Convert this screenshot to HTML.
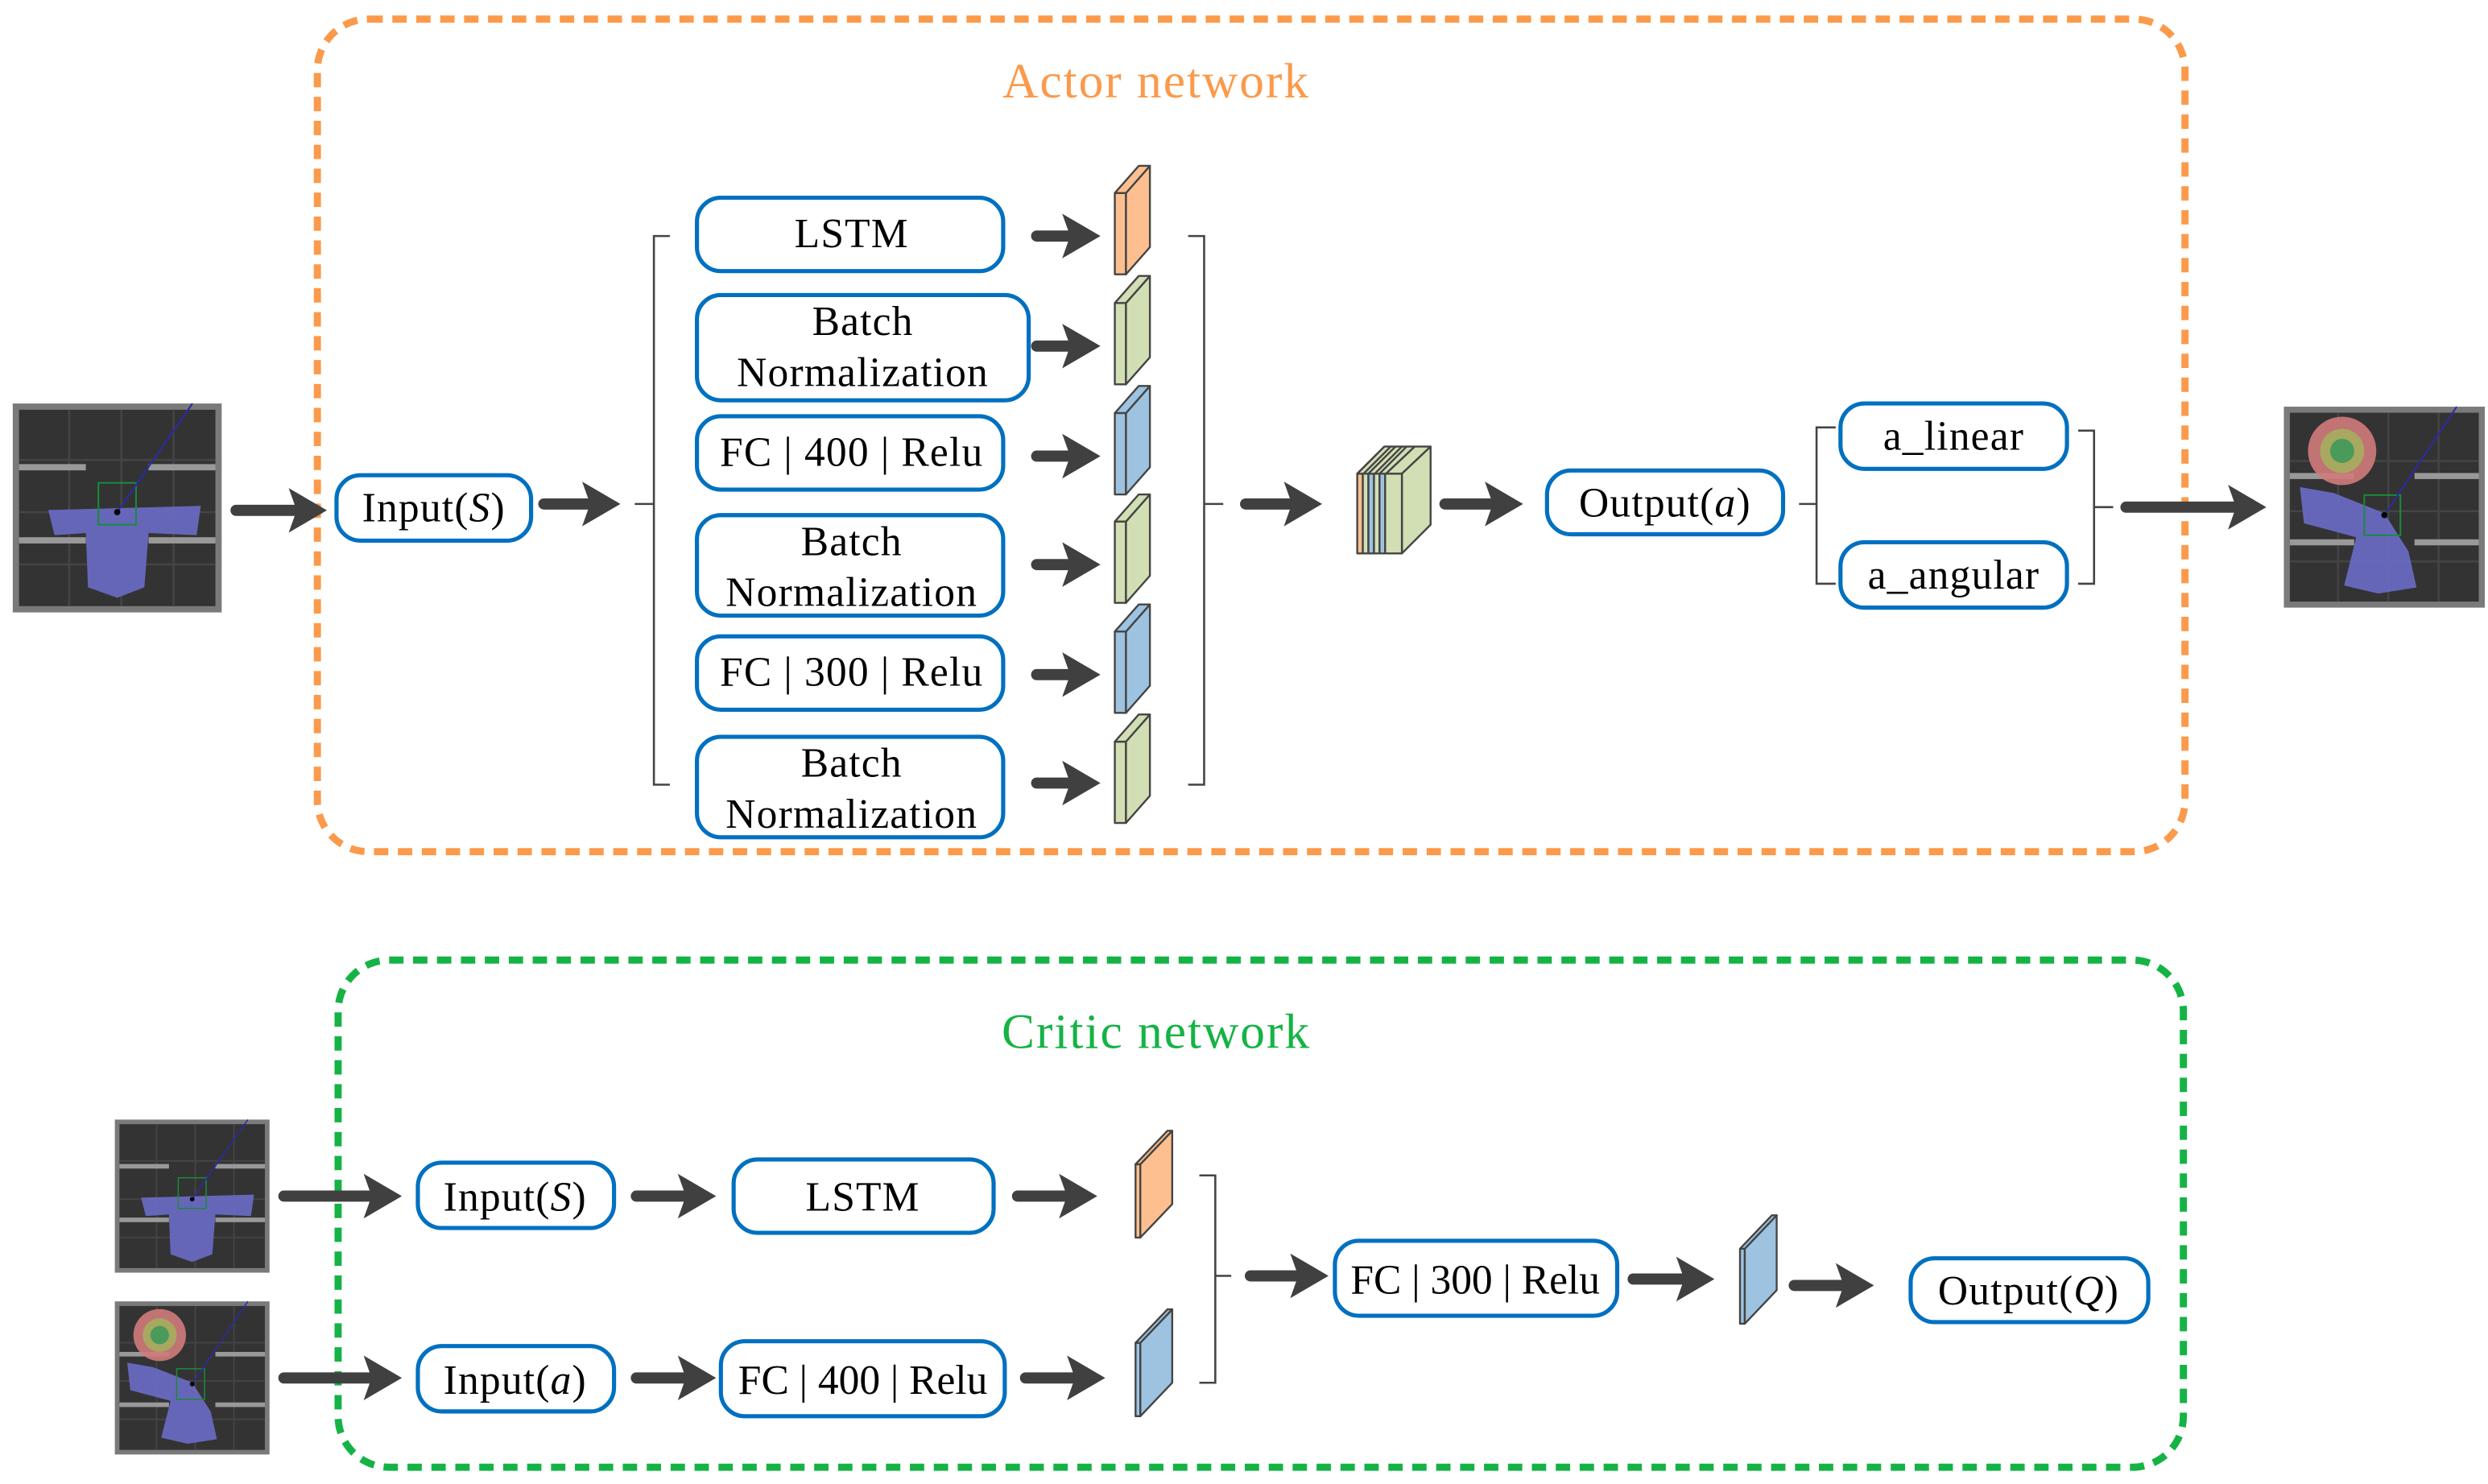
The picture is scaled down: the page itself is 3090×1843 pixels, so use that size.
<!DOCTYPE html>
<html><head><meta charset="utf-8"><style>
html,body{margin:0;padding:0;background:#fff;}
svg{display:block;}
text{font-family:"Liberation Serif",serif;fill:#000;}
</style></head><body>
<svg width="3090" height="1843" viewBox="0 0 1560 930.5" preserveAspectRatio="none" xmlns="http://www.w3.org/2000/svg">
<defs>
<g id="ah"><polygon points="-24,-14 0,0 -24,14 -19,0" fill="#404040"/></g>
<g id="scr">
<rect x="0" y="0" width="100" height="100" fill="#7a7a7a"/>
<rect x="3" y="3" width="94" height="94" fill="#333"/>
<path d="M3,27H97M3,52H97M3,77H97M27,3V97M52,3V97M77,3V97" stroke="#444" stroke-width="1"/>
<rect x="3" y="29" width="32" height="3" fill="#999"/><rect x="65" y="29" width="32" height="3" fill="#999"/>
<rect x="3" y="64" width="32" height="3" fill="#999"/><rect x="65" y="64" width="32" height="3" fill="#999"/>
<polygon points="17,51 90,49 88,63 65,62 63,88 50,93 36,88 35,62 20,63" fill="#6b6bc8" opacity="0.9"/>
<rect x="41" y="38" width="18" height="20" fill="none" stroke="#1a8a3a" stroke-width="0.8"/>
<line x1="50" y1="52" x2="86" y2="0" stroke="#2a2aaa" stroke-width="0.8"/>
<circle cx="50" cy="52" r="1.5" fill="#000"/>
</g>
<g id="scr2">
<rect x="0" y="0" width="100" height="100" fill="#7a7a7a"/>
<rect x="3" y="3" width="94" height="94" fill="#333"/>
<path d="M3,27H97M3,52H97M3,77H97M27,3V97M52,3V97M77,3V97" stroke="#444" stroke-width="1"/>
<rect x="3" y="33" width="32" height="3" fill="#999"/><rect x="65" y="33" width="32" height="3" fill="#999"/>
<rect x="3" y="66" width="32" height="3" fill="#999"/><rect x="65" y="66" width="32" height="3" fill="#999"/>
<polygon points="8,40 25,43 50,53 62,72 66,90 47,93 30,89 36,65 10,58" fill="#6b6bc8" opacity="0.9"/>
<circle cx="29" cy="22" r="17" fill="#d17a7a" opacity="0.9"/>
<circle cx="29" cy="22" r="11" fill="#a8a860"/>
<circle cx="29" cy="22" r="6" fill="#4a9a5a"/>
<rect x="40" y="44" width="18" height="20" fill="none" stroke="#1a8a3a" stroke-width="0.8"/>
<line x1="50" y1="54" x2="86" y2="0" stroke="#2a2aaa" stroke-width="0.8"/>
<circle cx="50" cy="54" r="1.5" fill="#000"/>
</g>
</defs>

<rect x="199" y="12" width="1171" height="522" rx="32" fill="none" stroke="#fb9a4b" stroke-width="4.5" stroke-dasharray="9,6"/>
<text x="725" y="61" font-size="31" letter-spacing="1" text-anchor="middle" style="fill:#fb9a4b">Actor network</text>
<rect x="212" y="602" width="1157" height="318" rx="32" fill="none" stroke="#15b345" stroke-width="4.5" stroke-dasharray="9,6"/>
<text x="725" y="657" font-size="31" letter-spacing="1" text-anchor="middle" style="fill:#15b345">Critic network</text>

<use href="#scr" transform="translate(8,253) scale(1.31,1.31)"/>
<use href="#scr2" transform="translate(1432,255) scale(1.26,1.26)"/>
<use href="#scr" transform="translate(72,702) scale(0.97,0.96)"/>
<use href="#scr2" transform="translate(72,816) scale(0.97,0.96)"/>

<g fill="#fff" stroke="#0070c0" stroke-width="2.6">
<rect x="437" y="124" width="192" height="46" rx="15"/>
<rect x="437" y="185" width="208" height="66" rx="15"/>
<rect x="437" y="261" width="192" height="46" rx="15"/>
<rect x="437" y="323" width="192" height="63" rx="15"/>
<rect x="437" y="399" width="192" height="46" rx="15"/>
<rect x="437" y="462" width="192" height="63" rx="15"/>
<rect x="211" y="298" width="122" height="41" rx="15"/>
<rect x="970" y="295" width="148" height="40" rx="15"/>
<rect x="1154" y="253" width="142" height="41" rx="15"/>
<rect x="1154" y="340" width="142" height="41" rx="15"/>
<rect x="262" y="729" width="123" height="41" rx="15"/>
<rect x="460" y="727" width="163" height="46" rx="15"/>
<rect x="262" y="844" width="123" height="41" rx="15"/>
<rect x="452" y="841" width="178" height="47" rx="15"/>
<rect x="837" y="778" width="177" height="47" rx="15"/>
<rect x="1198" y="789" width="149" height="40" rx="15"/>
</g>
<g font-size="26" letter-spacing="0.6" text-anchor="middle">
<text x="534" y="155">LSTM</text>
<text x="541" y="210">Batch</text><text x="541" y="242">Normalization</text>
<text x="534" y="292">FC | 400 | Relu</text>
<text x="534" y="348">Batch</text><text x="534" y="380">Normalization</text>
<text x="534" y="430">FC | 300 | Relu</text>
<text x="534" y="487">Batch</text><text x="534" y="519">Normalization</text>
<text x="272" y="327">Input(<tspan font-style="italic">S</tspan>)</text>
<text x="1044" y="324">Output(<tspan font-style="italic">a</tspan>)</text>
<text x="1225" y="282">a_linear</text>
<text x="1225" y="369">a_angular</text>
<text x="323" y="759">Input(<tspan font-style="italic">S</tspan>)</text>
<text x="541" y="759">LSTM</text>
<text x="323" y="874">Input(<tspan font-style="italic">a</tspan>)</text>
<text x="541" y="874" letter-spacing="0">FC | 400 | Relu</text>
<text x="925" y="811" letter-spacing="0">FC | 300 | Relu</text>
<text x="1272" y="818">Output(<tspan font-style="italic">Q</tspan>)</text>
</g>

<g fill="none" stroke="#444" stroke-width="1.3">
<path d="M420,148H410V492H420M398,316H410"/>
<path d="M745,148H755V492H745M755,316H767"/>
<path d="M1151,268H1139V366H1151M1128,316H1139"/>
<path d="M1303,270H1313V366H1303M1313,318H1325"/>
<path d="M752,737H762V867H752M762,800H772"/>
</g>

<g stroke="#404040" stroke-width="7" stroke-linecap="round">
<line x1="148" y1="320" x2="186" y2="320"/>
<line x1="341" y1="316" x2="370" y2="316"/>
<line x1="650" y1="148" x2="671" y2="148"/>
<line x1="650" y1="217" x2="671" y2="217"/>
<line x1="650" y1="286" x2="671" y2="286"/>
<line x1="650" y1="354" x2="671" y2="354"/>
<line x1="650" y1="423" x2="671" y2="423"/>
<line x1="650" y1="491" x2="671" y2="491"/>
<line x1="781" y1="316" x2="810" y2="316"/>
<line x1="906" y1="316" x2="936" y2="316"/>
<line x1="1333" y1="318" x2="1402" y2="318"/>
<line x1="178" y1="750" x2="233" y2="750"/>
<line x1="399" y1="750" x2="430" y2="750"/>
<line x1="638" y1="750" x2="669" y2="750"/>
<line x1="178" y1="864" x2="233" y2="864"/>
<line x1="399" y1="864" x2="430" y2="864"/>
<line x1="643" y1="864" x2="674" y2="864"/>
<line x1="784" y1="800" x2="814" y2="800"/>
<line x1="1024" y1="802" x2="1056" y2="802"/>
<line x1="1125" y1="806" x2="1156" y2="806"/>
</g>
<use href="#ah" x="205" y="320"/><use href="#ah" x="389" y="316"/>
<use href="#ah" x="690" y="148"/><use href="#ah" x="690" y="217"/><use href="#ah" x="690" y="286"/>
<use href="#ah" x="690" y="354"/><use href="#ah" x="690" y="423"/><use href="#ah" x="690" y="491"/>
<use href="#ah" x="829" y="316"/><use href="#ah" x="955" y="316"/><use href="#ah" x="1421" y="318"/>
<use href="#ah" x="252" y="750"/><use href="#ah" x="449" y="750"/><use href="#ah" x="688" y="750"/>
<use href="#ah" x="252" y="864"/><use href="#ah" x="449" y="864"/><use href="#ah" x="693" y="864"/>
<use href="#ah" x="833" y="800"/><use href="#ah" x="1075" y="802"/><use href="#ah" x="1175" y="806"/>

<g stroke="#444" stroke-width="1.2" stroke-linejoin="round">
<g fill="#fdbf8f"><polygon points="699,121 706,121 706,172 699,172"/><polygon points="706,121 721,104 721,155 706,172"/><polygon points="699,121 714,104 721,104 706,121"/></g>
<g fill="#d2deb4"><polygon points="699,190 706,190 706,241 699,241"/><polygon points="706,190 721,173 721,224 706,241"/><polygon points="699,190 714,173 721,173 706,190"/></g>
<g fill="#9dc3e0"><polygon points="699,259 706,259 706,310 699,310"/><polygon points="706,259 721,242 721,293 706,310"/><polygon points="699,259 714,242 721,242 706,259"/></g>
<g fill="#d2deb4"><polygon points="699,327 706,327 706,378 699,378"/><polygon points="706,327 721,310 721,361 706,378"/><polygon points="699,327 714,310 721,310 706,327"/></g>
<g fill="#9dc3e0"><polygon points="699,396 706,396 706,447 699,447"/><polygon points="706,396 721,379 721,430 706,447"/><polygon points="699,396 714,379 721,379 706,396"/></g>
<g fill="#d2deb4"><polygon points="699,465 706,465 706,516 699,516"/><polygon points="706,465 721,448 721,499 706,516"/><polygon points="699,465 714,448 721,448 706,465"/></g>

<g fill="#fdbf8f"><polygon points="712,730 715,730 715,776 712,776"/><polygon points="715,730 735,709 735,755 715,776"/><polygon points="712,730 732,709 735,709 715,730"/></g>
<g fill="#9dc3e0"><polygon points="712,842 715,842 715,888 712,888"/><polygon points="715,842 735,821 735,867 715,888"/><polygon points="712,842 732,821 735,821 715,842"/></g>
<g fill="#9dc3e0"><polygon points="1091,783 1094,783 1094,830 1091,830"/><polygon points="1094,783 1114,762 1114,809 1094,830"/><polygon points="1091,783 1111,762 1114,762 1094,783"/></g>

<polygon points="869,297 887,280 897,280 879,297" fill="#d2deb4"/>
<polygon points="879,297 897,280 897,329 879,347" fill="#d2deb4"/>
<rect x="851" y="297" width="3.5" height="50" fill="#fdbf8f"/>
<rect x="854.5" y="297" width="3.5" height="50" fill="#d2deb4"/>
<rect x="858" y="297" width="3.5" height="50" fill="#9dc3e0"/>
<rect x="861.5" y="297" width="3.5" height="50" fill="#d2deb4"/>
<rect x="865" y="297" width="3.5" height="50" fill="#9dc3e0"/>
<rect x="868.5" y="297" width="10.5" height="50" fill="#d2deb4"/>
<polygon points="851,297 868,280 887,280 869,297" fill="#d2deb4"/>
<line x1="851" y1="297" x2="868" y2="280"/><line x1="855" y1="297" x2="872" y2="280"/><line x1="858" y1="297" x2="875" y2="280"/>
<line x1="862" y1="297" x2="879" y2="280"/><line x1="865" y1="297" x2="882" y2="280"/>
</g>
</svg>
</body></html>
